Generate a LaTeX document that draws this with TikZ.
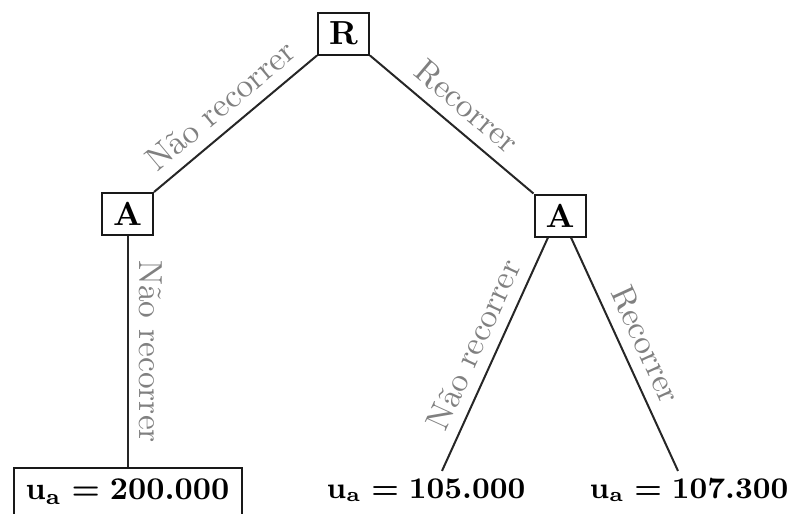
\documentclass[tikz,border=0pt]{standalone}
\usepackage{fontspec}
\usepackage{amsmath}
\usepackage{graphicx}
\begin{document}
\begin{tikzpicture}[x=0.3pt,y=-0.3pt]
\tikzset{
  box/.style={draw=black!90, line width=0.6pt, minimum width=15.3pt, minimum height=12.6pt, inner sep=0pt, font=\bfseries},
  leafbox/.style={draw=black!90, line width=0.6pt, minimum width=68.4pt, minimum height=14.4pt, inner sep=0pt, font=\boldmath},
  leaftxt/.style={font=\boldmath\small},
  edge/.style={draw=black!85, line width=0.6pt},
  lbl/.style={midway, sloped, above, text=black!50}
}
\useasboundingbox (0,0) rectangle (788,513);
\node[box] (R) at (343.5,33.5) {R};
\node[box] (A1) at (127.5,214) {A};
\node[box] (A2) at (560,215.5) {A};
\node[leafbox] (L1) at (127.5,492) {\scalebox{0.95}{$\mathbf{u}_{\mathbf{a}} = \mathbf{200.000}$}};
\node[leaftxt] (L2) at (426,490) {$\mathbf{u}_{\mathbf{a}} = \mathbf{105.000}$};
\node[leaftxt] (L3) at (689,490) {$\mathbf{u}_{\mathbf{a}} = \mathbf{107.300}$};
\draw[edge] (R.south west) -- node[lbl]{Não recorrer} (A1.north east);
\draw[edge] (R.south east) -- node[lbl]{Recorrer} (A2.north west);
\draw[edge] (A1.south) -- node[lbl, allow upside down]{Não recorrer} (L1.north);
\draw[edge] ([xshift=-3.6pt]A2.south) -- node[lbl]{Não recorrer} ([xshift=4.8pt,yshift=-1.2pt]L2.north);
\draw[edge] ([xshift=3.3pt]A2.south) -- node[lbl]{Recorrer} ([xshift=-3.3pt,yshift=-1.2pt]L3.north);
\end{tikzpicture}
\end{document}
